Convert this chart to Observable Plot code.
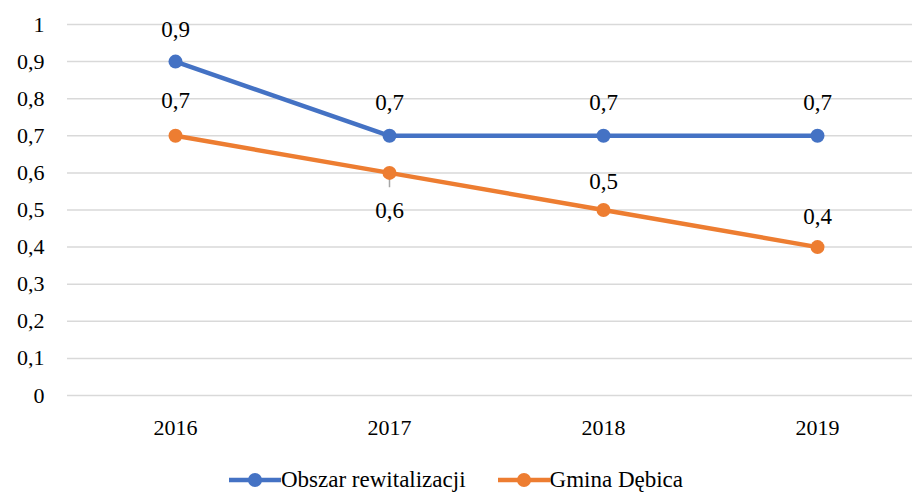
<!DOCTYPE html>
<html><head><meta charset="utf-8">
<script src="https://cdn.jsdelivr.net/npm/d3@7"></script>
<script src="https://cdn.jsdelivr.net/npm/@observablehq/plot@0.6"></script>
<style>
html, body, div, span, svg, svg text, svg tspan, svg g { font-family: 'Liberation Serif', Tinos, FreeSerif, serif !important; }
</style>
</head><body style="margin:0;background:#fff;">
<div id="chart"></div>
<div id="legend" style="display:flex;justify-content:center;gap:32px;font-size:23px;color:#000;margin-top:12px;"></div>
<script>
const years = [2016, 2017, 2018, 2019];
const obszar = [0.9, 0.7, 0.7, 0.7];
const gmina = [0.7, 0.6, 0.5, 0.4];
const seriesNames = ["Obszar rewitalizacji", "Gmina Dębica"];
const colors = ["#4472C4", "#ED7D31"];
const yTicks = [0, 0.1, 0.2, 0.3, 0.4, 0.5, 0.6, 0.7, 0.8, 0.9, 1];
// label placement offsets (px): negative above, positive below
const obszarDy = [-32, -33, -33, -33];
const gminaDy = [-35, 38, -28, -30];

const data = [];
years.forEach((y, i) => {
  data.push({year: y, v: obszar[i], s: seriesNames[0], dy: obszarDy[i]});
  data.push({year: y, v: gmina[i], s: seriesNames[1], dy: gminaDy[i]});
});
const fmt = v => String(v).replace(".", ",");

const chart = Plot.plot({
  width: 912, height: 455,
  marginLeft: 67, marginRight: 0, marginTop: 24, marginBottom: 60,
  style: {fontSize: "22px", color: "#000", background: "#fff"},
  x: {type: "point", domain: years, range: [67 + 107, 912 - 95], padding: 0},
  y: {domain: [0, 1]},
  color: {domain: seriesNames, range: colors},
  marks: [
    Plot.gridY(yTicks, {stroke: "#d9d9d9", strokeOpacity: 1, strokeWidth: 1.5}),
    Plot.axisY({ticks: yTicks, tickSize: 0, tickPadding: 23, tickFormat: fmt, label: null, fontSize: 22}),
    Plot.axisX({tickSize: 0, tickPadding: 24, tickFormat: d => String(d), label: null, fontSize: 22}),
    Plot.ruleX(data.filter(d => d.s === seriesNames[1] && d.year === 2017), {x: "year", y1: "v", y2: d => d.v - 0.04, stroke: "#a6a6a6", strokeWidth: 1.5}),
    Plot.line(data, {x: "year", y: "v", z: "s", stroke: "s", strokeWidth: 4.5}),
    Plot.dot(data, {x: "year", y: "v", fill: "s", r: 7}),
    ...data.map(d => Plot.text([d], {x: "year", y: "v", text: dd => fmt(dd.v), dy: d.dy, fontSize: 23, fill: "#000"}))
  ]
});
document.getElementById("chart").append(chart);

const leg = document.getElementById("legend");
seriesNames.forEach((n, i) => {
  const s = document.createElement("span");
  s.style.display = "flex";
  s.style.alignItems = "center";
  s.innerHTML = `<svg width="52" height="16"><line x1="0" y1="8" x2="52" y2="8" stroke="${colors[i]}" stroke-width="4.5"/><circle cx="26" cy="8" r="7" fill="${colors[i]}"/></svg>${n}`;
  leg.append(s);
});
</script>
</body></html>
